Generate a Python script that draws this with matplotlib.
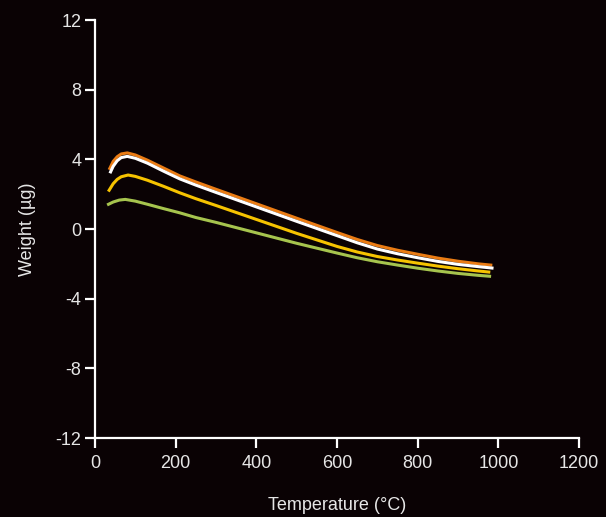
import matplotlib
matplotlib.use("Agg")
import matplotlib.pyplot as plt

# Weight change vs temperature, four runs
orange_t = [35, 45, 55, 65, 80, 100, 130, 170, 210, 250, 300, 400, 500, 600, 650, 700, 750, 800, 850, 900, 950, 985]
orange_w = [3.40, 3.88, 4.15, 4.31, 4.37, 4.25, 3.95, 3.50, 3.05, 2.70, 2.28, 1.45, 0.62, -0.20, -0.60, -0.95, -1.22, -1.45, -1.67, -1.85, -2.00, -2.08]

white_t = [37, 45, 55, 65, 80, 100, 130, 170, 210, 250, 300, 400, 500, 600, 650, 700, 750, 800, 850, 900, 950, 988]
white_w = [3.20, 3.60, 3.92, 4.10, 4.17, 4.06, 3.78, 3.32, 2.88, 2.52, 2.10, 1.27, 0.44, -0.38, -0.79, -1.15, -1.42, -1.65, -1.86, -2.03, -2.16, -2.25]

yellow_t = [33, 45, 55, 65, 82, 100, 130, 170, 210, 250, 300, 400, 500, 600, 650, 700, 750, 800, 850, 900, 950, 980]
yellow_w = [2.15, 2.60, 2.85, 3.00, 3.10, 3.02, 2.80, 2.45, 2.08, 1.74, 1.35, 0.55, -0.25, -1.00, -1.32, -1.58, -1.78, -1.96, -2.13, -2.28, -2.41, -2.48]

green_t = [30, 45, 60, 75, 100, 130, 170, 210, 250, 300, 400, 500, 600, 650, 700, 750, 800, 850, 900, 950, 982]
green_w = [1.38, 1.55, 1.66, 1.70, 1.60, 1.42, 1.17, 0.93, 0.66, 0.38, -0.22, -0.82, -1.38, -1.65, -1.88, -2.07, -2.25, -2.41, -2.55, -2.66, -2.72]

xticks = [0, 200, 400, 600, 800, 1000, 1200]
yticks = [-12, -8, -4, 0, 4, 8, 12]

plt.rcParams["font.family"] = ["Liberation Sans", "DejaVu Sans"]
plt.rcParams["axes.unicode_minus"] = False

bg = "#0a0204"
txt = "#e6e6e6"

fig = plt.figure(figsize=(6.06, 5.17), dpi=100, facecolor=bg)
ax = fig.add_axes([0.1568, 0.1528, 0.7987, 0.8085], facecolor=bg)

lw = 2.2
ax.plot(green_t, green_w, color="#a6c44e", lw=lw, solid_capstyle="butt")
ax.plot(yellow_t, yellow_w, color="#f6c300", lw=lw, solid_capstyle="butt")
ax.plot(orange_t, orange_w, color="#ea7c14", lw=lw, solid_capstyle="butt")
ax.plot(white_t, white_w, color="#ffffff", lw=lw, solid_capstyle="butt")

ax.set_xlim(0, 1200)
ax.set_ylim(-12, 12)
ax.set_xticks(xticks)
ax.set_yticks(yticks)

for s in ["top", "right"]:
    ax.spines[s].set_visible(False)
for s in ["left", "bottom"]:
    ax.spines[s].set_color("white")
    ax.spines[s].set_linewidth(1.6)

ax.tick_params(axis="both", colors="white", labelcolor=txt, width=1.6, length=7, labelsize=13)
ax.tick_params(axis="x", pad=5)
ax.tick_params(axis="y", pad=3)

ax.set_xlabel("Temperature (°C)", color=txt, fontsize=13, labelpad=18)
ax.set_ylabel("Weight (µg)", color=txt, fontsize=13, labelpad=14)

fig.savefig("out.png", dpi=100, facecolor=bg)
